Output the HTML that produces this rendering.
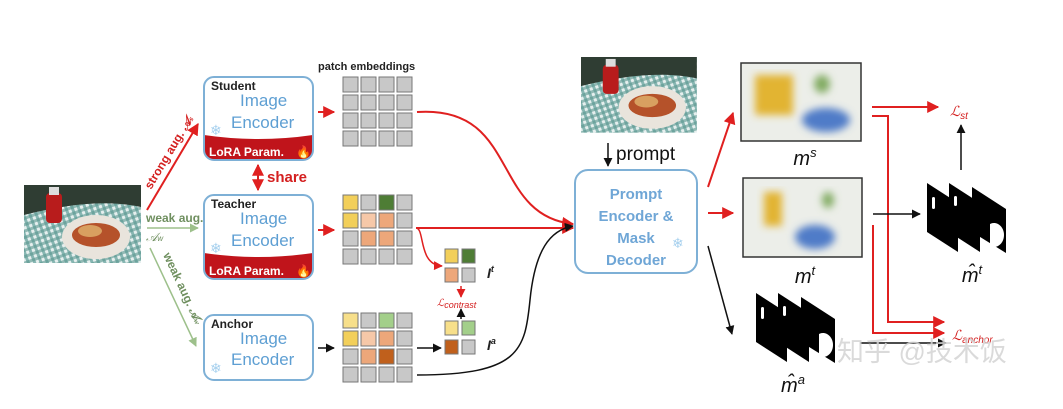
<!DOCTYPE html>
<html><head><meta charset="utf-8"><style>
html,body{margin:0;padding:0;background:#fff;}
svg{display:block;}
text{font-family:"Liberation Sans","Noto Sans CJK SC",sans-serif;}
</style></head><body>
<svg width="1063" height="409" viewBox="0 0 1063 409" xmlns="http://www.w3.org/2000/svg">
<defs>
<pattern id="chk" width="6" height="6" patternUnits="userSpaceOnUse" patternTransform="rotate(-20)">
<rect width="6" height="6" fill="#e6efee"/><rect width="3" height="6" fill="#6fa8a2" opacity="0.8"/><rect width="6" height="3" fill="#5a968f" opacity="0.6"/>
</pattern>
<marker id="ar" viewBox="0 0 10 10" refX="9" refY="5" markerWidth="6" markerHeight="6" orient="auto-start-reverse"><path d="M0,0L10,5L0,10z" fill="#e02020"/></marker>
<marker id="ab" viewBox="0 0 10 10" refX="9" refY="5" markerWidth="6" markerHeight="6" orient="auto"><path d="M0,0L10,5L0,10z" fill="#111"/></marker>
<marker id="ag" viewBox="0 0 10 10" refX="9" refY="5" markerWidth="6" markerHeight="6" orient="auto"><path d="M0,0L10,5L0,10z" fill="#9dc08b"/></marker>
<filter id="bl"><feGaussianBlur stdDeviation="4"/></filter>
<g id="photo">
<rect width="117" height="78" fill="url(#chk)"/>
<path d="M0,0H117V22C80,14 40,20 0,30Z" fill="#2f3d33"/>
<ellipse cx="72" cy="52" rx="34" ry="22" fill="#e9e4dc"/>
<ellipse cx="72" cy="50" rx="24" ry="12" fill="#b5522a"/>
<ellipse cx="66" cy="46" rx="12" ry="6" fill="#d8a060"/>
<rect x="22" y="8" width="16" height="30" rx="4" fill="#b81c1c"/>
<rect x="25" y="2" width="10" height="8" fill="#ddd"/>
</g>
</defs>

<use href="#photo" x="24" y="185"/>

<line x1="147" y1="210" x2="198" y2="124" stroke="#e02020" stroke-width="2" marker-end="url(#ar)"/>
<text transform="translate(151,190) rotate(-59)" font-size="12" font-weight="bold" fill="#d42020">strong aug. <tspan font-style="italic" font-family="Liberation Serif">𝒜<tspan font-size="8">s</tspan></tspan></text>
<line x1="147" y1="228" x2="198" y2="228" stroke="#9dc08b" stroke-width="1.5" marker-end="url(#ag)"/>
<text x="146" y="222" font-size="12" font-weight="bold" fill="#6f8f5f">weak aug.</text>
<text x="146" y="241" font-size="12" font-style="italic" fill="#6f8f5f" font-family="Liberation Serif">𝒜<tspan font-size="8">w</tspan></text>
<line x1="150" y1="248" x2="196" y2="346" stroke="#9dc08b" stroke-width="1.5" marker-end="url(#ag)"/>
<text transform="translate(163,255) rotate(65)" font-size="12" font-weight="bold" fill="#6f8f5f">weak aug. <tspan font-style="italic" font-family="Liberation Serif">𝒜<tspan font-size="8">w</tspan></tspan></text>

<g transform="translate(204,77)">
<path d="M0,58 Q54,66 109,58 V73 a10,10 0 0 1 -10,10 H10 a10,10 0 0 1 -10,-10Z" fill="#c0141b"/>
<rect x="0" y="0" width="109" height="83" rx="10" fill="none" stroke="#7eb0d6" stroke-width="2"/>
<text x="7" y="13" font-size="12" font-weight="bold" fill="#222">Student</text>
<text x="36" y="29" font-size="17" fill="#5e9fd3">Image</text>
<text x="27" y="51" font-size="17" fill="#5e9fd3">Encoder</text>
<text x="6" y="58" font-size="14" fill="#a6d0ee">❄</text>
<text x="5" y="79" font-size="12" font-weight="bold" fill="#fff">LoRA Param.</text>
<text x="92" y="79" font-size="12" fill="#f08020">🔥</text>
</g>
<path d="M258,165V190" stroke="#d42020" stroke-width="2" marker-end="url(#ar)" marker-start="url(#ar)"/>
<text x="267" y="182" font-size="15" font-weight="bold" fill="#d42020">share</text>

<g transform="translate(204,195)">
<path d="M0,58 Q54,66 109,58 V74 a10,10 0 0 1 -10,10 H10 a10,10 0 0 1 -10,-10Z" fill="#c0141b"/>
<rect x="0" y="0" width="109" height="84" rx="10" fill="none" stroke="#7eb0d6" stroke-width="2"/>
<text x="7" y="13" font-size="12" font-weight="bold" fill="#222">Teacher</text>
<text x="36" y="29" font-size="17" fill="#5e9fd3">Image</text>
<text x="27" y="51" font-size="17" fill="#5e9fd3">Encoder</text>
<text x="6" y="58" font-size="14" fill="#a6d0ee">❄</text>
<text x="5" y="80" font-size="12" font-weight="bold" fill="#fff">LoRA Param.</text>
<text x="92" y="80" font-size="12" fill="#f08020">🔥</text>
</g>

<g transform="translate(204,315)">
<rect x="0" y="0" width="109" height="65" rx="10" fill="#fff" stroke="#7eb0d6" stroke-width="2"/>
<text x="7" y="13" font-size="12" font-weight="bold" fill="#222">Anchor</text>
<text x="36" y="29" font-size="17" fill="#5e9fd3">Image</text>
<text x="27" y="50" font-size="17" fill="#5e9fd3">Encoder</text>
<text x="6" y="58" font-size="14" fill="#a6d0ee">❄</text>
</g>

<text x="318" y="70" font-size="11" font-weight="bold" fill="#222">patch embeddings</text>

<line x1="318" y1="112" x2="334" y2="112" stroke="#e02020" stroke-width="2" marker-end="url(#ar)"/>
<line x1="318" y1="230" x2="334" y2="230" stroke="#e02020" stroke-width="2" marker-end="url(#ar)"/>
<line x1="318" y1="348" x2="334" y2="348" stroke="#111" stroke-width="1.5" marker-end="url(#ab)"/>

<g stroke="#777" stroke-width="1">
<g fill="#c8c8c8">
<rect x="343" y="77" width="15" height="15"/><rect x="361" y="77" width="15" height="15"/><rect x="379" y="77" width="15" height="15"/><rect x="397" y="77" width="15" height="15"/>
<rect x="343" y="95" width="15" height="15"/><rect x="361" y="95" width="15" height="15"/><rect x="379" y="95" width="15" height="15"/><rect x="397" y="95" width="15" height="15"/>
<rect x="343" y="113" width="15" height="15"/><rect x="361" y="113" width="15" height="15"/><rect x="379" y="113" width="15" height="15"/><rect x="397" y="113" width="15" height="15"/>
<rect x="343" y="131" width="15" height="15"/><rect x="361" y="131" width="15" height="15"/><rect x="379" y="131" width="15" height="15"/><rect x="397" y="131" width="15" height="15"/>
</g>
<rect x="343" y="195" width="15" height="15" fill="#f2cf5a"/><rect x="361" y="195" width="15" height="15" fill="#c8c8c8"/><rect x="379" y="195" width="15" height="15" fill="#4e7d35"/><rect x="397" y="195" width="15" height="15" fill="#c8c8c8"/>
<rect x="343" y="213" width="15" height="15" fill="#f2cf5a"/><rect x="361" y="213" width="15" height="15" fill="#f6c8a8"/><rect x="379" y="213" width="15" height="15" fill="#eda77a"/><rect x="397" y="213" width="15" height="15" fill="#c8c8c8"/>
<rect x="343" y="231" width="15" height="15" fill="#c8c8c8"/><rect x="361" y="231" width="15" height="15" fill="#eda77a"/><rect x="379" y="231" width="15" height="15" fill="#eda77a"/><rect x="397" y="231" width="15" height="15" fill="#c8c8c8"/>
<rect x="343" y="249" width="15" height="15" fill="#c8c8c8"/><rect x="361" y="249" width="15" height="15" fill="#c8c8c8"/><rect x="379" y="249" width="15" height="15" fill="#c8c8c8"/><rect x="397" y="249" width="15" height="15" fill="#c8c8c8"/>
<rect x="343" y="313" width="15" height="15" fill="#f7df8a"/><rect x="361" y="313" width="15" height="15" fill="#c8c8c8"/><rect x="379" y="313" width="15" height="15" fill="#a3cf8a"/><rect x="397" y="313" width="15" height="15" fill="#c8c8c8"/>
<rect x="343" y="331" width="15" height="15" fill="#f2cf5a"/><rect x="361" y="331" width="15" height="15" fill="#f6c8a8"/><rect x="379" y="331" width="15" height="15" fill="#eda77a"/><rect x="397" y="331" width="15" height="15" fill="#c8c8c8"/>
<rect x="343" y="349" width="15" height="15" fill="#c8c8c8"/><rect x="361" y="349" width="15" height="15" fill="#eda77a"/><rect x="379" y="349" width="15" height="15" fill="#c0601c"/><rect x="397" y="349" width="15" height="15" fill="#c8c8c8"/>
<rect x="343" y="367" width="15" height="15" fill="#c8c8c8"/><rect x="361" y="367" width="15" height="15" fill="#c8c8c8"/><rect x="379" y="367" width="15" height="15" fill="#c8c8c8"/><rect x="397" y="367" width="15" height="15" fill="#c8c8c8"/>
<rect x="445" y="249" width="13" height="14" fill="#f2cf5a"/><rect x="462" y="249" width="13" height="14" fill="#4e7d35"/>
<rect x="445" y="268" width="13" height="14" fill="#eda77a"/><rect x="462" y="268" width="13" height="14" fill="#c8c8c8"/>
<rect x="445" y="321" width="13" height="14" fill="#f7df8a"/><rect x="462" y="321" width="13" height="14" fill="#a3cf8a"/>
<rect x="445" y="340" width="13" height="14" fill="#c0601c"/><rect x="462" y="340" width="13" height="14" fill="#c8c8c8"/>
</g>

<path d="M417,112 C520,105 490,215 573,224" fill="none" stroke="#e02020" stroke-width="2" marker-end="url(#ar)"/>
<path d="M416,228 H573" fill="none" stroke="#e02020" stroke-width="2" marker-end="url(#ar)"/>
<path d="M416,228 C425,228 418,265 442,266" fill="none" stroke="#e02020" stroke-width="1.5" marker-end="url(#ar)"/>
<line x1="417" y1="348" x2="441" y2="348" stroke="#111" stroke-width="1.5" marker-end="url(#ab)"/>
<path d="M417,375 C520,375 525,350 530,300 C535,250 550,230 573,226" fill="none" stroke="#111" stroke-width="1.5" marker-end="url(#ab)"/>
<line x1="461" y1="286" x2="461" y2="297" stroke="#e02020" stroke-width="1.5" marker-end="url(#ar)"/>
<line x1="461" y1="319" x2="461" y2="309" stroke="#111" stroke-width="1.5" marker-end="url(#ab)"/>
<text x="437" y="306" font-size="10" font-style="italic" fill="#d42020" font-family="Liberation Serif">ℒ<tspan font-size="9" dy="2">contrast</tspan></text>
<text x="487" y="278" font-size="14" font-weight="bold" font-style="italic" fill="#222" font-family="Liberation Serif">I<tspan font-size="9" dy="-6">t</tspan></text>
<text x="487" y="350" font-size="14" font-weight="bold" font-style="italic" fill="#222" font-family="Liberation Serif">I<tspan font-size="9" dy="-6">a</tspan></text>

<g transform="translate(581,57)"><use href="#photo" transform="scale(0.99,0.97)"/></g>
<line x1="608" y1="143" x2="608" y2="166" stroke="#111" stroke-width="1.5" marker-end="url(#ab)"/>
<text x="616" y="160" font-size="19" fill="#111">prompt</text>

<rect x="575" y="170" width="122" height="103" rx="13" fill="#fff" stroke="#7eb0d6" stroke-width="2"/>
<g font-size="15" font-weight="bold" fill="#6fa6d6" text-anchor="middle">
<text x="636" y="199">Prompt</text>
<text x="636" y="221">Encoder &amp;</text>
<text x="636" y="243">Mask</text>
<text x="636" y="265">Decoder</text>
</g>
<text x="672" y="248" font-size="14" fill="#a6d0ee">❄</text>

<line x1="708" y1="187" x2="733" y2="113" stroke="#e02020" stroke-width="2" marker-end="url(#ar)"/>
<line x1="708" y1="213" x2="733" y2="213" stroke="#e02020" stroke-width="2" marker-end="url(#ar)"/>
<line x1="708" y1="246" x2="732" y2="334" stroke="#111" stroke-width="1.5" marker-end="url(#ab)"/>

<rect x="741" y="63" width="120" height="78" fill="#eceee9" stroke="#333" stroke-width="1.5"/>
<g filter="url(#bl)">
<rect x="755" y="75" width="38" height="40" fill="#e2b430"/>
<ellipse cx="822" cy="84" rx="8" ry="9" fill="#80aa60"/>
<ellipse cx="826" cy="120" rx="24" ry="12" fill="#4f7cc8"/>
</g>
<text x="805" y="165" font-size="20" font-style="italic" fill="#111" font-family="Liberation Serif" text-anchor="middle">m<tspan font-size="13" dy="-8">s</tspan></text>
<rect x="743" y="178" width="119" height="79" fill="#eceee9" stroke="#333" stroke-width="1.5"/>
<g filter="url(#bl)">
<rect x="764" y="192" width="18" height="34" fill="#e2b430"/>
<ellipse cx="828" cy="200" rx="6" ry="8" fill="#80aa60"/>
<ellipse cx="815" cy="237" rx="20" ry="12" fill="#4f7cc8"/>
</g>
<text x="805" y="283" font-size="20" font-style="italic" fill="#111" font-family="Liberation Serif" text-anchor="middle">m<tspan font-size="13" dy="-8">t</tspan></text>

<g>
<path d="M927,183 L958,203 L958,252 L927,232Z" fill="#000"/>
<path d="M949,183 L980,203 L980,252 L949,232Z" fill="#000"/>
<path d="M972,187 L1006,209 L1006,253 L972,232Z" fill="#000"/>
<rect x="932" y="197" width="3" height="12" rx="1.5" fill="#fff"/>
<rect x="954" y="196" width="3" height="10" rx="1.5" fill="#fff"/>
<path d="M990,224 a10,12 0 1 1 0,22 Z" fill="#fff"/>
</g>
<text x="972" y="282" font-size="20" font-style="italic" fill="#111" font-family="Liberation Serif" text-anchor="middle">m̂<tspan font-size="13" dy="-8">t</tspan></text>
<g transform="translate(-171,110)">
<path d="M927,183 L958,203 L958,252 L927,232Z" fill="#000"/>
<path d="M949,183 L980,203 L980,252 L949,232Z" fill="#000"/>
<path d="M972,187 L1006,209 L1006,253 L972,232Z" fill="#000"/>
<rect x="932" y="197" width="3" height="12" rx="1.5" fill="#fff"/>
<rect x="954" y="196" width="3" height="10" rx="1.5" fill="#fff"/>
<path d="M990,224 a10,12 0 1 1 0,22 Z" fill="#fff"/>
</g>
<text x="793" y="392" font-size="20" font-style="italic" fill="#111" font-family="Liberation Serif" text-anchor="middle">m̂<tspan font-size="13" dy="-8">a</tspan></text>

<line x1="872" y1="107" x2="938" y2="107" stroke="#e02020" stroke-width="2" marker-end="url(#ar)"/>
<path d="M872,116 H888 V322 H944" fill="none" stroke="#e02020" stroke-width="2" marker-end="url(#ar)"/>
<path d="M873,225 V333 H944" fill="none" stroke="#e02020" stroke-width="2" marker-end="url(#ar)"/>
<line x1="873" y1="214" x2="920" y2="214" stroke="#111" stroke-width="1.5" marker-end="url(#ab)"/>
<line x1="860" y1="343" x2="946" y2="343" stroke="#111" stroke-width="1.5" marker-end="url(#ab)"/>
<line x1="961" y1="170" x2="961" y2="125" stroke="#111" stroke-width="1.5" marker-end="url(#ab)"/>
<text x="950" y="116" font-size="14" font-style="italic" fill="#d42020" font-family="Liberation Serif">ℒ<tspan font-size="10" dy="3">st</tspan></text>
<text x="952" y="340" font-size="14" font-style="italic" fill="#d42020" font-family="Liberation Serif">ℒ<tspan font-size="10" dy="3">anchor</tspan></text>

<text x="837" y="361" font-size="27" fill="#d4d4d4" opacity="0.85" font-family="'Noto Sans CJK SC',sans-serif">知乎 @技术饭</text>
</svg>
</body></html>
